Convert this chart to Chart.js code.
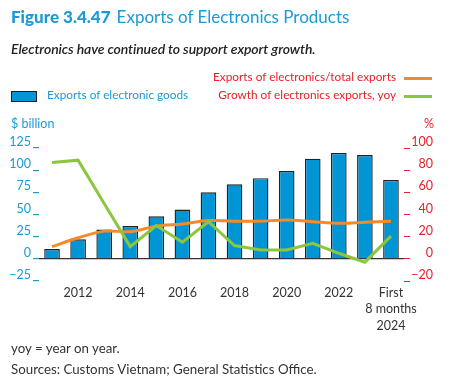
<!DOCTYPE html>
<html>
<head>
<meta charset="utf-8">
<script src="https://cdn.jsdelivr.net/npm/chart.js@4/dist/chart.umd.min.js"></script>
<style>
  body { margin:0; width:452px; height:389px; background:#fff; font-family:Lato, sans-serif; position:relative; overflow:hidden; }
  #wrap { position:absolute; left:0; top:0; width:452px; height:389px; }
  .t { position:absolute; white-space:nowrap; }
  .title { left:11px; top:6px; font-size:17px; color:#1b9ad6; }
  .title b { font-weight:900; margin-right:6px; }
  .sub { left:11px; top:40px; font-size:14px; font-style:italic; font-weight:600; color:#222; letter-spacing:-0.1px; }
  .leg { font-size:11.8px; }
  .box { display:inline-block; width:24px; height:9px; background:#0096d6; border:1px solid #222; vertical-align:middle; margin-right:10px; }
  .ln { display:inline-block; width:28px; height:3px; vertical-align:middle; margin-left:8px; }
  .note { left:11px; font-size:13.3px; color:#333; }
</style>
</head>
<body>
<div id="wrap"><canvas id="Migrafica" width="452" height="389"></canvas></div>
<div class="t title"><b>Figure 3.4.47</b>Exports of Electronics Products</div>
<div class="t sub">Electronics have continued to support export growth.</div>
<div class="t leg" style="left:11px;top:87px;color:#1b9ad6"><span class="box"></span>Exports of electronic goods</div>
<div class="t leg" style="right:20px;top:69px;color:#e8212a">Exports of electronics/total exports<span class="ln" style="background:#f58a2a"></span></div>
<div class="t leg" style="right:20px;top:87px;color:#e8212a">Growth of electronics exports, yoy<span class="ln" style="background:#8cc63f"></span></div>
<div class="t" style="left:11px;top:116px;font-size:12.5px;color:#1b9ad6">$ billion</div>
<div class="t" style="left:424px;top:116px;font-size:12.5px;color:#e8212a">%</div>
<div class="t note" style="top:340px">yoy = year on year.</div>
<div class="t note" style="top:361px">Sources: Customs Vietnam; General Statistics Office.</div>
<script>
var categorias = ['2011','2012','2013','2014','2015','2016','2017','2018','2019','2020','2021','2022','2023',['First','8 months','2024']];
var exportaciones = [11, 22, 33, 37, 48, 55.5, 75, 84, 91, 99, 113, 119.5, 117, 89];
var participacion = [11, 19, 25, 24.5, 29.5, 31.5, 34.5, 34, 34, 35, 33.5, 32, 33, 34];
var crecimiento = [87, 89, 50, 11, 30, 15, 33.5, 12, 8, 8, 14, 5, -3, 20.5];
var ticksIzq = [-25, 0, 25, 50, 75, 100, 125];
var ticksDer = [-20, 0, 20, 40, 60, 80, 100];

var azul = '#1b9ad6';
var rojo = '#e8212a';

function menos(v){ return v < 0 ? '\u2212' + Math.abs(v) : String(v); }

let miCanvas = document.getElementById('Migrafica').getContext('2d');
var chart = new Chart(miCanvas, {
  type: 'bar',
  data: {
    labels: categorias,
    datasets: [
      {
        type: 'line',
        label: 'Exports of electronics/total exports',
        data: participacion,
        borderColor: '#f58a2a',
        borderWidth: 3,
        pointRadius: 0,
        tension: 0.3,
        yAxisID: 'y2',
        order: 1
      },
      {
        type: 'line',
        label: 'Growth of electronics exports, yoy',
        data: crecimiento,
        borderColor: '#8cc63f',
        borderWidth: 3,
        pointRadius: 0,
        tension: 0,
        yAxisID: 'y2',
        order: 0
      },
      {
        label: 'Exports of electronic goods',
        data: exportaciones,
        backgroundColor: '#0096d6',
        borderColor: '#222',
        borderWidth: 1.4,
        barPercentage: 0.6,
        categoryPercentage: 1,
        yAxisID: 'y',
        order: 2
      }
    ]
  },
  options: {
    responsive: false,
    animation: false,
    layout: { padding: { top: 148, bottom: 56, left: 0, right: 19 } },
    plugins: { legend: { display: false }, tooltip: { enabled: false } },
    scales: {
      x: {
        grid: { display: false },
        border: { display: false },
        afterFit: function(s){ s.height = 52; },
        ticks: {
          autoSkip: false,
          maxRotation: 0,
          color: '#333',
          padding: -4,
          font: { family: 'Lato', size: 12.5, lineHeight: 1.3 },
          callback: function(v, i){
            var c = categorias[i];
            if (Array.isArray(c)) return c;
            return (Number(c) % 2 === 0) ? c : '';
          }
        }
      },
      y: {
        position: 'left',
        min: -25, max: 125,
        afterFit: function(s){ s.width = 39; },
        afterBuildTicks: function(s){ s.ticks = ticksIzq.map(function(v){ return {value: v}; }); },
        border: { display: false },
        grid: {
          color: function(c){ return c.tick && c.tick.value === 0 ? '#333' : 'rgba(0,0,0,0)'; },
          lineWidth: 1.2,
          tickColor: azul,
          tickLength: 6
        },
        ticks: {
          color: azul,
          padding: 2,
          labelOffset: -6,
          font: { family: 'Lato', size: 12.5 },
          callback: function(v){ return menos(v); }
        }
      },
      y2: {
        position: 'right',
        min: -20, max: 100,
        afterFit: function(s){ s.width = 29; },
        afterBuildTicks: function(s){ s.ticks = ticksDer.map(function(v){ return {value: v}; }); },
        border: { display: false },
        grid: { drawOnChartArea: false, tickColor: rojo, tickLength: 6 },
        ticks: {
          color: rojo,
          padding: 4,
          crossAlign: 'far',
          labelOffset: -6,
          font: { family: 'Lato', size: 12.5 },
          callback: function(v){ return menos(v); }
        }
      }
    }
  }
});
</script>
</body>
</html>
